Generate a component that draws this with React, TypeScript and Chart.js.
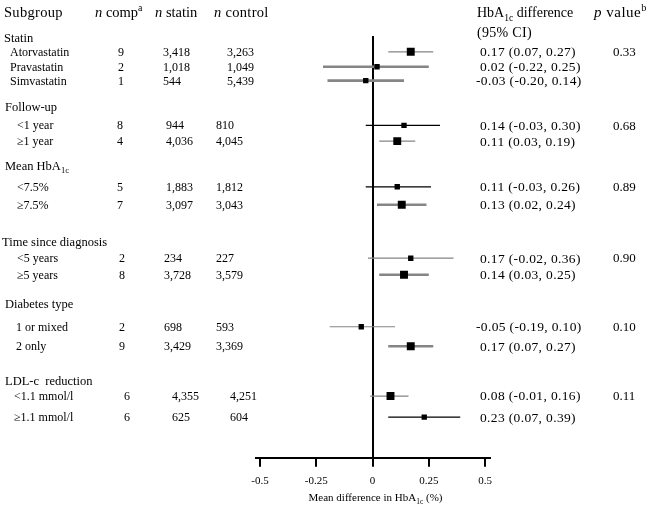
import React, { useEffect, useRef } from "react";
import { Chart, registerables } from "chart.js";

Chart.register(...registerables);

// ---------- data ----------
const groupNames = ["Statin", "Follow-up", "Mean HbA_{1c}", "Time since diagnosis", "Diabetes type", "LDL-c  reduction"];
const groupPValues = ["0.33", "0.68", "0.89", "0.90", "0.10", "0.11"];
const groupRowPos = [0.13, 4.7, 8.6, 13.65, 17.8, 22.9];

const subgroupLabels = ["Atorvastatin", "Pravastatin", "Simvastatin", "<1 year", "≥1 year", "<7.5%", "≥7.5%", "<5 years", "≥5 years", "1 or mixed", "2 only", "<1.1 mmol/l", "≥1.1 mmol/l"];
const subgroupGroup = [0, 0, 0, 1, 1, 2, 2, 3, 3, 4, 4, 5, 5];
const subgroupRowPos = [1.05, 2.04, 2.96, 5.93, 6.98, 10.01, 11.2, 14.75, 15.85, 19.3, 20.6, 23.9, 25.3];
const nComp = ["9", "2", "1", "8", "4", "5", "7", "2", "8", "2", "9", "6", "6"];
const nStatin = ["3,418", "1,018", "544", "944", "4,036", "1,883", "3,097", "234", "3,728", "698", "3,429", "4,355", "625"];
const nControl = ["3,263", "1,049", "5,439", "810", "4,045", "1,812", "3,043", "227", "3,579", "593", "3,369", "4,251", "604"];
const meanDiff = [0.17, 0.02, -0.03, 0.14, 0.11, 0.11, 0.13, 0.17, 0.14, -0.05, 0.17, 0.08, 0.23];
const ciLow = [0.07, -0.22, -0.2, -0.03, 0.03, -0.03, 0.02, -0.02, 0.03, -0.19, 0.07, -0.01, 0.07];
const ciHigh = [0.27, 0.25, 0.14, 0.3, 0.19, 0.26, 0.24, 0.36, 0.25, 0.1, 0.27, 0.16, 0.39];
const markerWeight = ["large", "small", "small", "small", "large", "small", "large", "small", "large", "small", "large", "large", "small"];
const ciLineStyle = ["grayThin", "grayThick", "grayThick", "blackThin", "grayThin", "blackThin", "grayThick", "grayThin", "grayThick", "grayThin", "grayThick", "grayThin", "blackThin"];

const xTicks = [-0.5, -0.25, 0, 0.25, 0.5];
const xTickLabels = ["-0.5", "-0.25", "0", "0.25", "0.5"];
const xAxisTitle = "Mean difference in HbA_{1c} (%)";

// ---------- layout / style ----------
const FONT = '"Liberation Serif", "Times New Roman", serif';
const W = 661;
const H = 508;
const groupX = [4, 5, 5, 2, 5, 5];
const itemX = [10, 17, 17, 17, 16, 14];
const nCompX = [121, 120, 120, 122, 122, 127];
const nStatinX = [163, 166, 166, 164, 164, 172];
const nControlX = [227, 216, 216, 216, 216, 230];
const ciTextX = 480;
const pTextX = 613;
const lineStyles: Record<string, { color: string; width: number }> = {
  grayThin: { color: "#858585", width: 1.2 },
  grayThick: { color: "#858585", width: 2.6 },
  blackThin: { color: "#000000", width: 1.2 },
};
const markerRadius: Record<string, number> = { large: 5.6, small: 3.8 };

type Seg = { t: string; k: string };
function parseRich(s: string): Seg[] {
  const segs: Seg[] = [];
  const re = /\*([^*]+)\*|_\{([^}]+)\}|\^\{([^}]+)\}|([^*_^]+)/g;
  let m: RegExpExecArray | null;
  while ((m = re.exec(s))) {
    if (m[1]) segs.push({ t: m[1], k: "i" });
    else if (m[2]) segs.push({ t: m[2], k: "sub" });
    else if (m[3]) segs.push({ t: m[3], k: "sup" });
    else segs.push({ t: m[4], k: "n" });
  }
  return segs;
}

function drawRich(ctx: CanvasRenderingContext2D, s: string, x: number, y: number, size: number, align = "left", spacing = 0) {
  const segs = parseRich(s);
  const fontFor = (k: string) => {
    const sz = k === "sub" || k === "sup" ? size * 0.68 : size;
    return `${k === "i" ? "italic " : ""}${sz}px ${FONT}`;
  };
  (ctx as any).letterSpacing = `${spacing}px`;
  const widths = segs.map((sg) => {
    ctx.font = fontFor(sg.k);
    return ctx.measureText(sg.t).width;
  });
  const total = widths.reduce((a, b) => a + b, 0);
  let cx = align === "center" ? x - total / 2 : align === "right" ? x - total : x;
  const base = y + size * 0.33;
  ctx.textAlign = "left";
  ctx.textBaseline = "alphabetic";
  ctx.fillStyle = "#000";
  segs.forEach((sg, i) => {
    ctx.font = fontFor(sg.k);
    const dy = sg.k === "sub" ? size * 0.28 : sg.k === "sup" ? -size * 0.38 : 0;
    ctx.fillText(sg.t, cx, base + dy);
    cx += widths[i];
  });
  (ctx as any).letterSpacing = "0px";
}

const fmt = (v: number) => v.toFixed(2);

const textPlugin = {
  id: "forestText",
  afterDraw(chart: any) {
    const ctx: CanvasRenderingContext2D = chart.ctx;
    const ys = chart.scales.y;
    const xs = chart.scales.x;
    ctx.save();
    // headers
    drawRich(ctx, "Subgroup", 4, 12, 14.5, "left", 0.3);
    drawRich(ctx, "*n* comp^{a}", 95, 12, 14.5);
    drawRich(ctx, "*n* statin", 155, 12, 14.5);
    drawRich(ctx, "*n* control", 214, 12, 14.5, "left", 0.3);
    drawRich(ctx, "HbA_{1c} difference", 477, 12, 14);
    drawRich(ctx, "(95% CI)", 477, 32, 14, "left", 0.3);
    drawRich(ctx, "*p* value^{b}", 594, 12, 15, "left", 0.5);
    // groups
    groupNames.forEach((g, gi) => {
      const y = ys.getPixelForValue(groupRowPos[gi]);
      drawRich(ctx, g, groupX[gi], y, 12.5);
    });
    // rows
    subgroupLabels.forEach((lab, i) => {
      const g = subgroupGroup[i];
      const y = ys.getPixelForValue(subgroupRowPos[i]);
      drawRich(ctx, lab, itemX[g], y, 12);
      drawRich(ctx, nComp[i], nCompX[g], y, 12, "center");
      drawRich(ctx, nStatin[i], nStatinX[g], y, 12);
      drawRich(ctx, nControl[i], nControlX[g], y, 12);
      const ci = `${fmt(meanDiff[i])} (${fmt(ciLow[i])}, ${fmt(ciHigh[i])})`;
      drawRich(ctx, ci, meanDiff[i] < 0 ? ciTextX - 4 : ciTextX, y, 13.5, "left", 0.35);
      const first = subgroupGroup.indexOf(g) === i;
      if (first) drawRich(ctx, groupPValues[g], pTextX, y, 13);
    });
    // axis title
    drawRich(ctx, xAxisTitle, xs.getPixelForValue(0) + 3, 497, 11, "center");
    ctx.restore();
  },
};

export default function App() {
  const ref = useRef<HTMLCanvasElement>(null);
  useEffect(() => {
    document.body.style.margin = "0";
    const ciDatasets = subgroupLabels.map((lab, i) => ({
      type: "line" as const,
      label: lab,
      data: [
        { x: ciLow[i], y: subgroupRowPos[i] },
        { x: ciHigh[i], y: subgroupRowPos[i] },
      ],
      borderColor: lineStyles[ciLineStyle[i]].color,
      borderWidth: lineStyles[ciLineStyle[i]].width,
      pointRadius: 0,
      showLine: true,
      fill: false,
    }));
    const chart = new Chart(ref.current as HTMLCanvasElement, {
      type: "scatter",
      data: {
        datasets: [
          {
            label: "Mean difference",
            data: meanDiff.map((v, i) => ({ x: v, y: subgroupRowPos[i] })),
            pointStyle: "rect",
            pointRadius: markerWeight.map((w) => markerRadius[w]),
            backgroundColor: "#000",
            borderWidth: 0,
          },
          ...ciDatasets,
        ] as any,
      },
      options: {
        responsive: false,
        animation: false,
        devicePixelRatio: 1,
        layout: { padding: { left: 255.5, right: 171.5, top: 36, bottom: 12 } },
        plugins: { legend: { display: false }, tooltip: { enabled: false } },
        scales: {
          x: {
            type: "linear",
            min: -0.52,
            max: 0.52,
            afterBuildTicks: (axis: any) => {
              axis.ticks = xTicks.map((v) => ({ value: v }));
            },
            ticks: {
              autoSkip: false,
              maxRotation: 0,
              padding: 8,
              color: "#000",
              font: { family: FONT, size: 11 },
              callback: (_v: any, idx: number) => xTickLabels[idx],
            },
            grid: {
              drawOnChartArea: true,
              drawTicks: true,
              tickLength: 9,
              tickWidth: 2,
              tickColor: "#000",
              lineWidth: 2,
              color: (c: any) => (c.tick && c.tick.value === 0 ? "#000" : "rgba(0,0,0,0)"),
            },
            border: { display: true, color: "#000", width: 2 },
          },
          y: {
            type: "linear",
            display: false,
            min: 0,
            max: 28,
            reverse: true,
          },
        },
      } as any,
      plugins: [textPlugin],
    });
    return () => chart.destroy();
  }, []);
  return <canvas ref={ref} width={W} height={H} style={{ display: "block", width: W, height: H }} />;
}
